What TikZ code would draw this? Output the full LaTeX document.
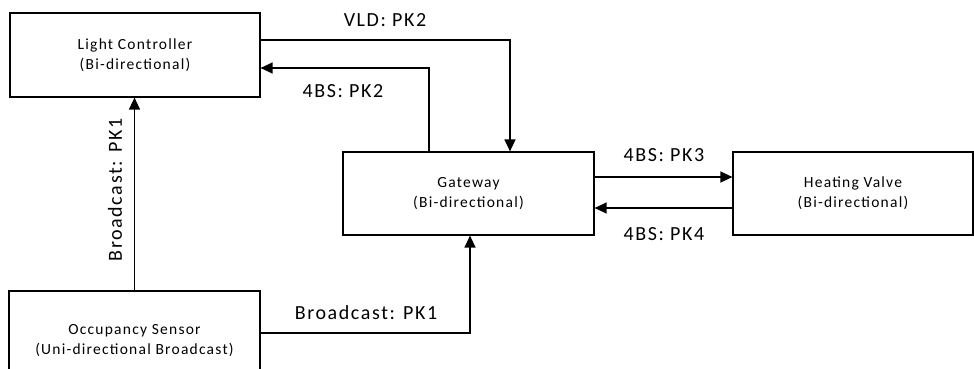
\documentclass[tikz,border=0pt]{standalone}
\usepackage{fontspec}
\setmainfont{Carlito}[LetterSpace=8]
\usetikzlibrary{arrows.meta}

\begin{document}
\begin{tikzpicture}[x=1pt,y=-1pt,
	device/.style={draw,line width=1.2pt,align=center,inner sep=0pt,
		font=\fontsize{15.5}{20}\selectfont},
	link/.style={line width=1.3pt,-{Triangle[length=12pt,width=11pt]}},
	tag/.style={inner sep=0pt,font=\fontsize{20}{24}\selectfont}]
\useasboundingbox (0,0) rectangle (974,369);
\clip (0,0) rectangle (974,369);

% devices
\node[device,minimum width=250pt,minimum height=84pt] (lc) at (135,55) {Light Controller\\(Bi-directional)};
\node[device,minimum width=251pt,minimum height=83pt] (gw) at (468.5,193.5) {Gateway\\(Bi-directional)};
\node[device,minimum width=240pt,minimum height=83pt] (hv) at (853,193.5) {Heating Valve\\(Bi-directional)};
\node[device,minimum width=251pt,minimum height=100pt] (os) at (134.5,341) {Occupancy Sensor\\(Uni-directional Broadcast)};

% links
\draw[link] ([yshift=15pt]lc.east) -| ([xshift=41.5pt]gw.north);
\draw[link] ([xshift=-39.5pt]gw.north) |- ([yshift=-13pt]lc.east);
\draw[link] (os.north) -- (os.north |- lc.south);
\draw[link] ([yshift=8pt]os.east) -| ([xshift=1.5pt]gw.south);
\draw[link] ([yshift=16.5pt]gw.east) -- ([yshift=16.5pt]hv.west);
\draw[link] ([yshift=-14.5pt]hv.west) -- ([yshift=-14.5pt]gw.east);

% labels
\node[tag] (vld) at (385,20) {VLD: PK2};
\node[tag] (bs2) at (343,91) {4BS: PK2};
\node[tag] (bs3) at (664,155) {4BS: PK3};
\node[tag] (bs4) at (664,234) {4BS: PK4};
\node[tag] (bc1) at (366,313) {Broadcast: PK1};
\node[tag,rotate=90] (bc2) at (115,190) {Broadcast: PK1};
\end{tikzpicture}
\end{document}
